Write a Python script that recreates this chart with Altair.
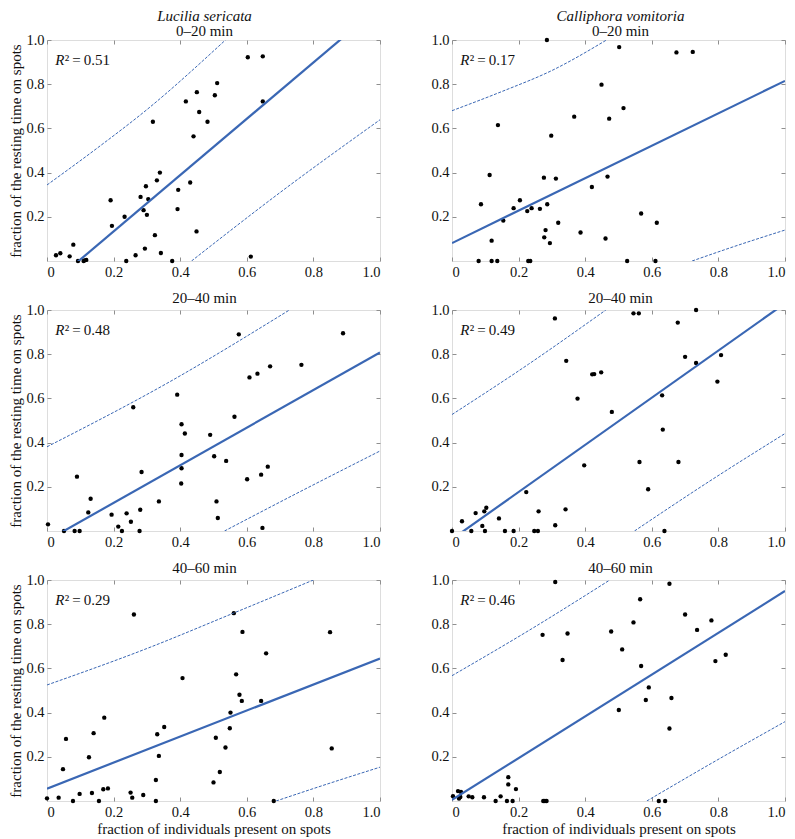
import altair as alt
import pandas as pd

FONT = "Liberation Serif"
BLUE = "#3a67b4"
FRAME = "#8f8f8f"
W, H = 333, 221

species = ["Lucilia sericata", "Calliphora vomitoria"]
periods = ["0\u201320 min", "20\u201340 min", "40\u201360 min"]
r2_values = ["0.51", "0.17", "0.48", "0.49", "0.29", "0.46"]
x_ticks = [0, 0.2, 0.4, 0.6, 0.8, 1.0]
y_ticks = [0.2, 0.4, 0.6, 0.8, 1.0]

# ---- Lucilia sericata, 0-20 min
ls1_x = [0.027, 0.040, 0.068, 0.079, 0.093, 0.110, 0.113, 0.118, 0.191, 0.195,
         0.233, 0.238, 0.266, 0.281, 0.290, 0.294, 0.297, 0.300, 0.304, 0.318,
         0.324, 0.330, 0.339, 0.342, 0.376, 0.392, 0.394, 0.417, 0.430, 0.440,
         0.449, 0.450, 0.457, 0.482, 0.504, 0.511, 0.603, 0.612, 0.648, 0.648]
ls1_y = [0.026, 0.035, 0.021, 0.074, 0.0, 0.0, 0.003, 0.005, 0.275, 0.159,
         0.200, 0.0, 0.026, 0.290, 0.230, 0.056, 0.338, 0.209, 0.280, 0.630,
         0.117, 0.365, 0.400, 0.036, 0.0, 0.235, 0.322, 0.722, 0.355, 0.564,
         0.134, 0.764, 0.674, 0.630, 0.750, 0.805, 0.922, 0.020, 0.926, 0.722]
ls1_fit = [-0.121, 1.153]
ls1_up_x = [0, 0.15, 0.3, 0.536]
ls1_up_y = [0.344, 0.51, 0.685, 1.0]
ls1_lo_x = [0.434, 0.7, 1.0]
ls1_lo_y = [0.0, 0.31, 0.639]

# ---- Calliphora vomitoria, 0-20 min
cv1_x = [0.080, 0.087, 0.113, 0.119, 0.119, 0.136, 0.138, 0.154, 0.185, 0.204,
         0.226, 0.229, 0.235, 0.239, 0.264, 0.276, 0.277, 0.281, 0.285, 0.286,
         0.294, 0.298, 0.312, 0.319, 0.367, 0.386, 0.420, 0.449, 0.461, 0.467,
         0.472, 0.502, 0.515, 0.526, 0.568, 0.611, 0.615, 0.674, 0.723]
cv1_y = [0.0, 0.257, 0.389, 0.092, 0.0, 0.0, 0.615, 0.183, 0.239, 0.275,
         0.226, 0.0, 0.0, 0.239, 0.236, 0.377, 0.107, 0.140, 1.0, 0.257,
         0.081, 0.567, 0.373, 0.173, 0.653, 0.129, 0.335, 0.798, 0.102, 0.382,
         0.644, 0.968, 0.692, 0.0, 0.215, 0.0, 0.173, 0.944, 0.946]
cv1_fit = [0.081, 0.815]
cv1_up_x = [0, 0.15, 0.3, 0.464]
cv1_up_y = [0.680, 0.767, 0.862, 1.0]
cv1_lo_x = [0.721, 0.86, 1.0]
cv1_lo_y = [0.0, 0.072, 0.140]

# ---- Lucilia sericata, 20-40 min
ls2_x = [0.003, 0.051, 0.083, 0.090, 0.098, 0.124, 0.131, 0.194, 0.214, 0.225,
         0.239, 0.252, 0.259, 0.278, 0.280, 0.284, 0.336, 0.391, 0.403, 0.404,
         0.404, 0.404, 0.414, 0.490, 0.502, 0.509, 0.513, 0.538, 0.563, 0.576,
         0.601, 0.608, 0.632, 0.643, 0.647, 0.663, 0.670, 0.764, 0.889]
ls2_y = [0.030, 0.0, 0.0, 0.246, 0.0, 0.084, 0.146, 0.074, 0.020, 0.0,
         0.080, 0.042, 0.560, 0.0, 0.096, 0.267, 0.134, 0.617, 0.215, 0.483,
         0.344, 0.284, 0.441, 0.435, 0.338, 0.134, 0.059, 0.317, 0.517, 0.890,
         0.234, 0.695, 0.712, 0.255, 0.014, 0.291, 0.745, 0.752, 0.895]
ls2_fit = [-0.043, 0.808]
ls2_up_x = [0, 0.36, 0.728]
ls2_up_y = [0.381, 0.668, 1.0]
ls2_lo_x = [0.533, 0.76, 1.0]
ls2_lo_y = [0.0, 0.178, 0.362]

# ---- Calliphora vomitoria, 20-40 min
cv2_x = [0.0, 0.030, 0.058, 0.071, 0.091, 0.097, 0.099, 0.103, 0.141, 0.159,
         0.185, 0.223, 0.247, 0.258, 0.260, 0.309, 0.310, 0.341, 0.343, 0.377,
         0.397, 0.421, 0.427, 0.448, 0.480, 0.545, 0.561, 0.563, 0.589, 0.631,
         0.633, 0.638, 0.678, 0.680, 0.700, 0.733, 0.733, 0.797, 0.808]
cv2_y = [0.0, 0.044, 0.0, 0.081, 0.023, 0.089, 0.0, 0.105, 0.057, 0.0,
         0.0, 0.176, 0.0, 0.0, 0.089, 0.962, 0.026, 0.098, 0.770, 0.599,
         0.297, 0.709, 0.710, 0.718, 0.539, 0.985, 0.985, 0.312, 0.189, 0.614,
         0.459, 0.0, 0.943, 0.312, 0.788, 1.0, 0.760, 0.676, 0.796]
cv2_fit = [-0.037, 1.030]
cv2_up_x = [0, 0.23, 0.462]
cv2_up_y = [0.527, 0.755, 1.0]
cv2_lo_x = [0.548, 0.77, 1.0]
cv2_lo_y = [0.0, 0.222, 0.441]

# ---- Lucilia sericata, 40-60 min
ls3_x = [0.0, 0.035, 0.048, 0.057, 0.078, 0.098, 0.126, 0.135, 0.140, 0.156,
         0.169, 0.172, 0.183, 0.251, 0.256, 0.261, 0.289, 0.327, 0.327, 0.331,
         0.336, 0.352, 0.407, 0.500, 0.507, 0.519, 0.536, 0.549, 0.551, 0.561,
         0.568, 0.578, 0.585, 0.587, 0.643, 0.658, 0.681, 0.850, 0.855]
ls3_y = [0.012, 0.015, 0.144, 0.281, 0.0, 0.032, 0.198, 0.036, 0.307, 0.0,
         0.053, 0.377, 0.057, 0.038, 0.015, 0.844, 0.027, 0.095, 0.0, 0.302,
         0.204, 0.335, 0.556, 0.084, 0.286, 0.131, 0.242, 0.329, 0.400, 0.850,
         0.573, 0.481, 0.453, 0.765, 0.453, 0.668, 0.0, 0.764, 0.238]
ls3_fit = [0.056, 0.645]
ls3_up_x = [0, 0.3, 0.56, 0.8]
ls3_up_y = [0.525, 0.69, 0.85, 1.0]
ls3_lo_x = [0.688, 0.84, 1.0]
ls3_lo_y = [0.0, 0.076, 0.153]

# ---- Calliphora vomitoria, 40-60 min
cv3_x = [0.003, 0.018, 0.021, 0.027, 0.025, 0.050, 0.061, 0.096, 0.131, 0.146,
         0.165, 0.169, 0.169, 0.182, 0.192, 0.272, 0.274, 0.279, 0.284, 0.310,
         0.332, 0.347, 0.478, 0.501, 0.511, 0.545, 0.565, 0.568, 0.582, 0.591,
         0.621, 0.640, 0.653, 0.653, 0.659, 0.700, 0.736, 0.779, 0.791, 0.822]
cv3_y = [0.022, 0.045, 0.011, 0.041, 0.018, 0.021, 0.017, 0.017, 0.0, 0.021,
         0.0, 0.108, 0.075, 0.0, 0.054, 0.752, 0.0, 0.0, 0.0, 0.991,
         0.638, 0.758, 0.767, 0.412, 0.686, 0.808, 0.913, 0.611, 0.457, 0.514,
         0.0, 0.0, 0.983, 0.328, 0.466, 0.844, 0.774, 0.817, 0.633, 0.662]
cv3_fit = [0.005, 0.950]
cv3_up_x = [0, 0.24, 0.474]
cv3_up_y = [0.567, 0.78, 1.0]
cv3_lo_x = [0.585, 0.79, 1.0]
cv3_lo_y = [0.0, 0.18, 0.359]

fit_x = [0.0, 1.0]

panels_data = [
    (ls1_x, ls1_y, ls1_fit, ls1_up_x, ls1_up_y, ls1_lo_x, ls1_lo_y),
    (cv1_x, cv1_y, cv1_fit, cv1_up_x, cv1_up_y, cv1_lo_x, cv1_lo_y),
    (ls2_x, ls2_y, ls2_fit, ls2_up_x, ls2_up_y, ls2_lo_x, ls2_lo_y),
    (cv2_x, cv2_y, cv2_fit, cv2_up_x, cv2_up_y, cv2_lo_x, cv2_lo_y),
    (ls3_x, ls3_y, ls3_fit, ls3_up_x, ls3_up_y, ls3_lo_x, ls3_lo_y),
    (cv3_x, cv3_y, cv3_fit, cv3_up_x, cv3_up_y, cv3_lo_x, cv3_lo_y),
]

X_LABEL = "datum.value == 0 ? '0' : format(datum.value, '.1f')"


def grid_axis(**kw):
    base = dict(domain=False, ticks=False, grid=True, gridDash=[4, 1000],
                gridColor=FRAME, gridWidth=1, gridOpacity=1,
                labelFont=FONT, labelFontSize=14.5, labelColor="#111",
                titleFont=FONT, titleFontSize=15, titleFontWeight="normal",
                titleColor="#111")
    base.update(kw)
    return alt.Axis(**base)


def panel(i):
    row, col = divmod(i, 2)
    px, py, fy, ux, uy, lx, ly = panels_data[i]
    sx = alt.Scale(domain=[0, 1], nice=False, zero=False)
    sy = alt.Scale(domain=[0, 1], nice=False, zero=False)

    xt = "fraction of individuals present on spots" if row == 2 else None
    yt = "fraction of the resting time on spots" if col == 0 else None
    x_axis = grid_axis(values=x_ticks, labelExpr=X_LABEL, labelPadding=4,
                       title=xt, titlePadding=3)
    y_axis = grid_axis(values=y_ticks, labelExpr="format(datum.value, '.1f')",
                       labelPadding=3, title=yt, titlePadding=2)
    x_axis_top = grid_axis(values=x_ticks, orient="top", labels=False, title=None)
    y_axis_right = grid_axis(values=y_ticks, orient="right", labels=False, title=None)

    pts = pd.DataFrame({"x": px, "y": py})
    fit = pd.DataFrame({"x": fit_x, "y": fy})
    up = pd.DataFrame({"x": ux, "y": uy})
    lo = pd.DataFrame({"x": lx, "y": ly})
    lab = pd.DataFrame({"x": [0.025], "y": [0.887],
                        "r": ["R"],
                        "t": ["\u00b2\u2009=\u2009" + r2_values[i]]})

    points = alt.Chart(pts).mark_circle(size=19, color="black", opacity=1).encode(
        x=alt.X("x:Q", scale=sx, axis=x_axis),
        y=alt.Y("y:Q", scale=sy, axis=y_axis),
    )
    fitline = alt.Chart(fit).mark_line(color=BLUE, strokeWidth=2.2, clip=True).encode(
        x=alt.X("x:Q", scale=sx, axis=x_axis_top),
        y=alt.Y("y:Q", scale=sy, axis=y_axis_right),
    )
    bands = []
    for d in (up, lo):
        bands.append(
            alt.Chart(d).mark_line(color=BLUE, strokeWidth=1, strokeDash=[3, 1.5],
                                   clip=True, interpolate="monotone").encode(
                x=alt.X("x:Q", scale=sx, axis=None),
                y=alt.Y("y:Q", scale=sy, axis=None),
            )
        )
    rtext = alt.Chart(lab).mark_text(align="left", baseline="alphabetic", font=FONT,
                                     fontSize=15, fontStyle="italic", color="#111").encode(
        x=alt.X("x:Q", scale=sx, axis=None),
        y=alt.Y("y:Q", scale=sy, axis=None),
        text="r:N",
    )
    vtext = alt.Chart(lab).mark_text(align="left", baseline="alphabetic", font=FONT,
                                     fontSize=15, dx=9.5, color="#111").encode(
        x=alt.X("x:Q", scale=sx, axis=None),
        y=alt.Y("y:Q", scale=sy, axis=None),
        text="t:N",
    )

    if row == 0:
        title = alt.Title(text=species[col], subtitle=periods[row], fontStyle="italic",
                          subtitleFontStyle="normal", font=FONT, subtitleFont=FONT,
                          fontSize=15, subtitleFontSize=15, fontWeight="normal",
                          subtitleFontWeight="normal", color="#111", subtitleColor="#111",
                          subtitlePadding=0, offset=-7, anchor="middle", frame="group",
                          dx=-9 if col == 0 else 2)
    else:
        title = alt.Title(text=periods[row], font=FONT, fontSize=15, fontWeight="normal",
                          color="#111", offset=-4, anchor="middle", frame="group",
                          dx=-9 if col == 0 else 2)

    return alt.layer(points, fitline, *bands, rtext, vtext).resolve_axis(
        x="independent", y="independent"
    ).properties(width=W, height=H, title=title)


chart = alt.concat(*[panel(i) for i in range(6)], columns=2,
                   spacing={"row": 49, "column": 72}, bounds="flush").properties(
    padding={"left": 0, "top": 0, "right": 0, "bottom": 0}
).configure_view(stroke=FRAME, strokeWidth=1).configure(font=FONT)

chart.save("out.html", embed_options={"renderer": "svg", "actions": False})
